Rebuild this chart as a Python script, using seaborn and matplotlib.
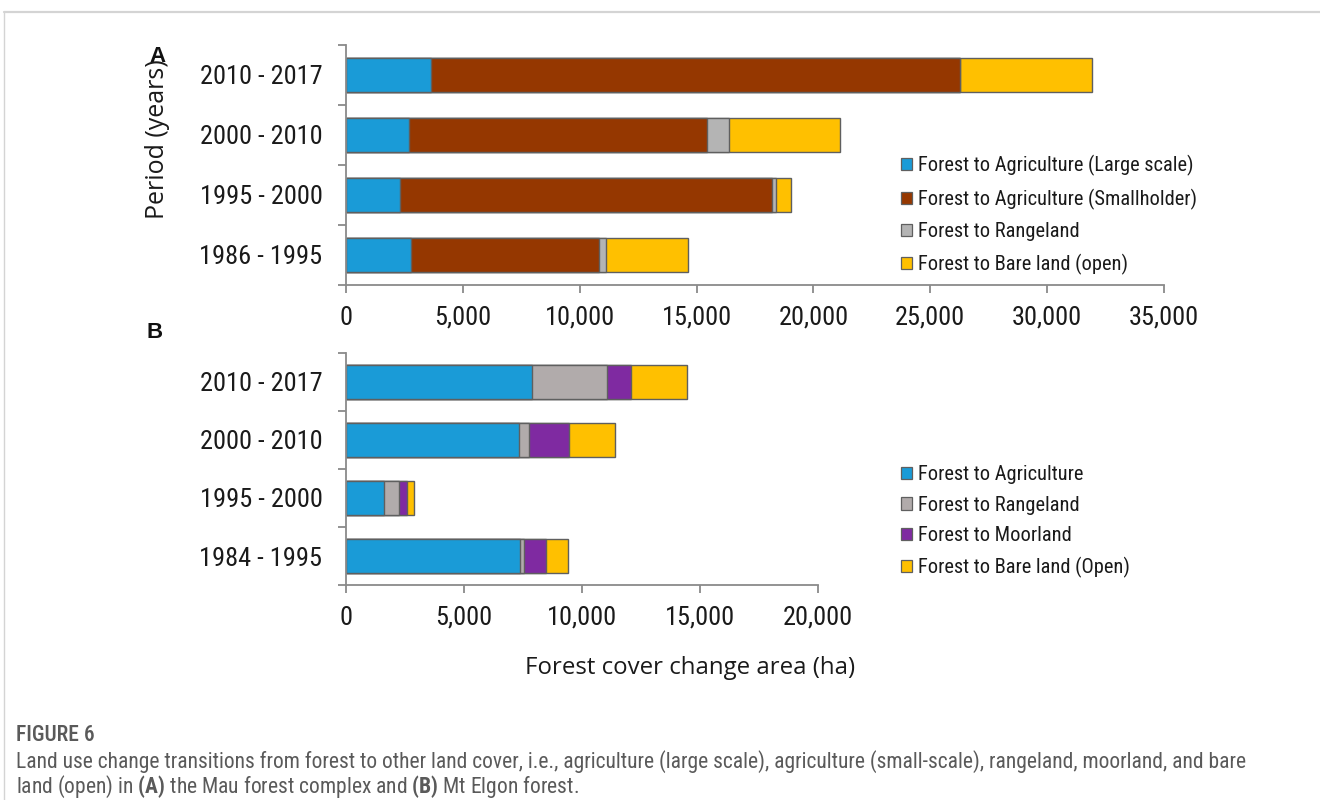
import numpy as np
import pandas as pd
import matplotlib
matplotlib.use("Agg")
import matplotlib.pyplot as plt
from matplotlib import font_manager
from matplotlib.patches import Patch
from matplotlib.lines import Line2D
from matplotlib.ticker import FixedLocator, MultipleLocator, StrMethodFormatter
import seaborn as sns

# ---- (A) Mau forest complex: area converted per period (ha) ----
periods_a = ["2010 - 2017", "2000 - 2010", "1995 - 2000", "1986 - 1995"]
agri_large_a = [3650, 2710, 2330, 2800]
agri_small_a = [22600, 12740, 15880, 8010]
rangeland_a = [0, 930, 200, 300]
bare_a = [5680, 4770, 610, 3510]
labels_a = ["Forest to Agriculture (Large scale)",
            "Forest to Agriculture (Smallholder)",
            "Forest to Rangeland",
            "Forest to Bare land (open)"]

# ---- (B) Mt Elgon forest: area converted per period (ha) ----
periods_b = ["2010 - 2017", "2000 - 2010", "1995 - 2000", "1984 - 1995"]
agri_b = [7870, 7330, 1600, 7360]
rangeland_b = [3210, 450, 640, 200]
moorland_b = [1020, 1670, 350, 930]
bare_b = [2380, 1940, 310, 920]
labels_b = ["Forest to Agriculture",
            "Forest to Rangeland",
            "Forest to Moorland",
            "Forest to Bare land (Open)"]

BLUE, BROWN, YELLOW = "#1a9bd7", "#953700", "#ffc000"
GREY_A, GREY_B, PURPLE = "#b4b4b4", "#b1abab", "#7f2aa1"
EDGE = "#5f5f5f"
SPINE = "#8a8a8a"

sns.set_theme(style="ticks")

# prefer a narrow Arial-like face for the chart text
installed = {f.name for f in font_manager.fontManager.ttflist}
NARROW = None
for cand in ("Liberation Sans Narrow", "Arial Narrow", "Roboto Condensed"):
    if cand in installed:
        NARROW = cand
        break
if NARROW:
    TEXT_FONT, TICK_SIZE, LEG_SIZE, CAP_SIZE = NARROW, 19, 14.7, 15.5
else:
    TEXT_FONT, TICK_SIZE, LEG_SIZE, CAP_SIZE = "Liberation Sans", 17, 13, 13.8

plt.rcParams["font.family"] = [TEXT_FONT, "DejaVu Sans"]
plt.rcParams["mathtext.fontset"] = "custom"
plt.rcParams["mathtext.rm"] = TEXT_FONT
plt.rcParams["mathtext.bf"] = TEXT_FONT + ":bold"

fig = plt.figure(figsize=(13.2, 8), dpi=100)
ax_a = fig.add_axes([346 / 1320, 1 - 285 / 800, 818 / 1320, 240 / 800])
ax_b = fig.add_axes([346 / 1320, 1 - 585 / 800, 471.5 / 1320, 232 / 800])


def stacked_barh(ax, periods, layers, colors):
    """Stack the layers by overdrawing cumulative totals, longest first."""
    cum = np.zeros(len(periods))
    frames = []
    for vals, color in zip(layers, colors):
        cum = cum + np.asarray(vals, dtype=float)
        frames.append((pd.DataFrame({"period": periods, "total": cum.copy()}), color))
    for df, color in reversed(frames):
        sns.barplot(data=df, x="total", y="period", order=periods, orient="h",
                    color=color, saturation=1, width=0.58, errorbar=None,
                    edgecolor=EDGE, linewidth=1.0, ax=ax)


def style_axis(ax, n, xmax):
    sns.despine(ax=ax)
    ax.set_xlabel("")
    ax.set_ylabel("")
    ax.set_xlim(0, xmax)
    ax.set_ylim(n - 0.5, -0.5)
    for side in ("left", "bottom"):
        ax.spines[side].set_color(SPINE)
        ax.spines[side].set_linewidth(1.3)
    ax.xaxis.set_major_locator(MultipleLocator(5000))
    ax.xaxis.set_major_formatter(StrMethodFormatter("{x:,.0f}"))
    ax.yaxis.set_minor_locator(FixedLocator(np.arange(-0.5, n, 1.0)))
    ax.tick_params(axis="y", which="major", length=0, pad=17,
                   labelsize=TICK_SIZE, labelcolor="#1a1a1a")
    ax.tick_params(axis="y", which="minor", length=6, width=1.3, color=SPINE)
    ax.tick_params(axis="x", which="major", length=6, width=1.3, color=SPINE,
                   pad=9, labelsize=TICK_SIZE, labelcolor="#1a1a1a")


stacked_barh(ax_a, periods_a, [agri_large_a, agri_small_a, rangeland_a, bare_a],
             [BLUE, BROWN, GREY_A, YELLOW])
style_axis(ax_a, len(periods_a), 35000)

stacked_barh(ax_b, periods_b, [agri_b, rangeland_b, moorland_b, bare_b],
             [BLUE, GREY_B, PURPLE, YELLOW])
style_axis(ax_b, len(periods_b), 20000)


def add_legend(labels, colors, top_px, spacing):
    handles = [Patch(facecolor=c, edgecolor=EDGE, linewidth=0.9) for c in colors]
    leg = fig.legend(handles, labels, loc="upper left",
                     bbox_to_anchor=(901 / 1320, 1 - top_px / 800),
                     bbox_transform=fig.transFigure, frameon=False,
                     fontsize=LEG_SIZE, handlelength=0.55, handleheight=0.55,
                     handletextpad=0.3, labelspacing=spacing, borderpad=0,
                     borderaxespad=0)
    for t in leg.get_texts():
        t.set_color("#1a1a1a")
    return leg


add_legend(labels_a, [BLUE, BROWN, GREY_A, YELLOW], 155,
           0.62 if NARROW else 0.8)
add_legend(labels_b, [BLUE, GREY_B, PURPLE, YELLOW], 465,
           0.57 if NARROW else 0.75)

# panel letters and shared axis titles
fig.text(157 / 1320, 1 - 57 / 800, "A", ha="center", va="center", fontsize=16,
         fontweight="bold", family="Liberation Sans", color="#111111")
fig.text(155 / 1320, 1 - 332 / 800, "B", ha="center", va="center", fontsize=16,
         fontweight="bold", family="Liberation Sans", color="#111111")
fig.text(157 / 1320, 1 - 139 / 800, "Period (years)", rotation=90, ha="center",
         va="center", fontsize=18, family="Open Sans", color="#1a1a1a")
fig.text(690 / 1320, 1 - 668 / 800, "Forest cover change area (ha)", ha="center",
         va="center", fontsize=17.3, family="Open Sans", color="#1a1a1a")

# caption
CAP = "#5a5a5a"
fig.text(16 / 1320, 1 - 735 / 800, "FIGURE 6", ha="left", va="center",
         fontsize=15.5, fontweight="medium", color=CAP)
fig.text(16 / 1320, 1 - 762 / 800,
         "Land use change transitions from forest to other land cover, i.e., "
         "agriculture (large scale), agriculture (small-scale), rangeland, "
         "moorland, and bare", ha="left", va="center", fontsize=CAP_SIZE,
         color=CAP)
fig.text(16 / 1320, 1 - 787 / 800,
         r"land (open) in $\mathbf{(A)}$ the Mau forest complex and "
         r"$\mathbf{(B)}$ Mt Elgon forest.", ha="left", va="center",
         fontsize=CAP_SIZE, color=CAP)

# page frame
fig.add_artist(Line2D([4 / 1320, 1], [1 - 12 / 800, 1 - 12 / 800],
                      transform=fig.transFigure, color="#d4d4d4", lw=1.6))
fig.add_artist(Line2D([4 / 1320, 4 / 1320], [0, 1 - 12 / 800],
                      transform=fig.transFigure, color="#d4d4d4", lw=1.0))

fig.savefig("out.png", dpi=100, facecolor="white")
